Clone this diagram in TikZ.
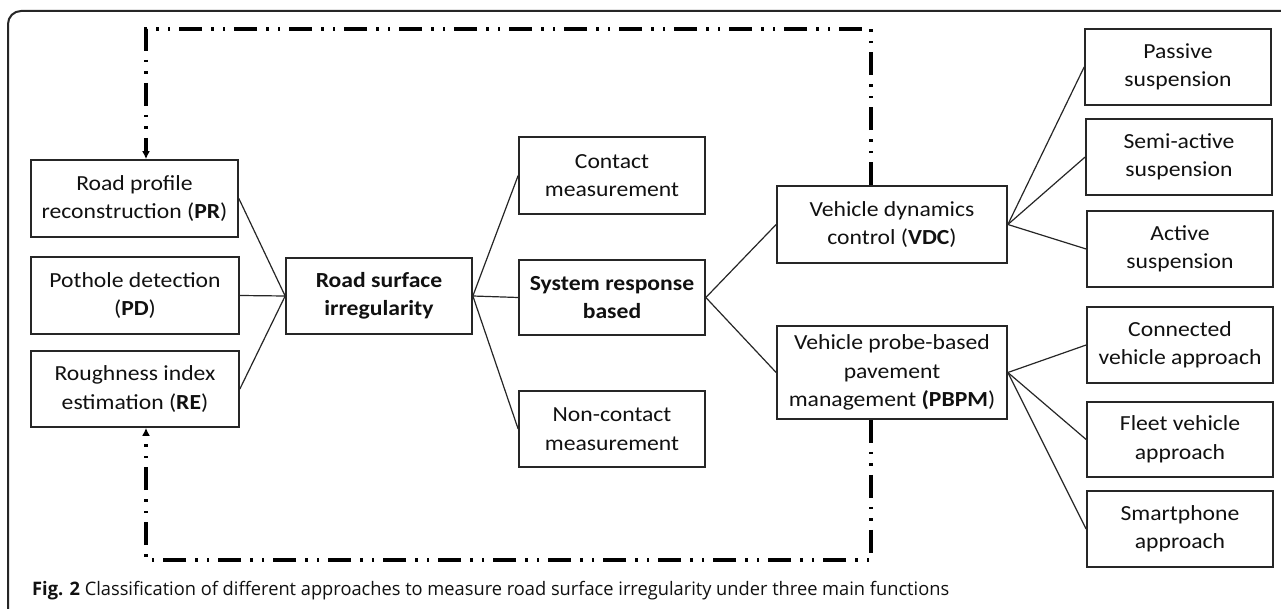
\documentclass[tikz,border=0pt]{standalone}
\usepackage{fontspec}
\setmainfont{Carlito}[FakeStretch=1.1]
\newfontfamily\capfont{Open Sans}
\usetikzlibrary{arrows.meta}
\definecolor{lin}{HTML}{262626}
\definecolor{txt}{HTML}{111111}
\tikzset{
  box/.style={draw=lin, line width=1.7pt, inner sep=0pt, align=center, text=txt,
    font=\fontsize{21.5}{28.5}\selectfont},
  conn/.style={draw=lin, line width=1.2pt},
  fb/.style={draw=black, line width=3.3pt,
    dash pattern=on 23pt off 9pt on 2.5pt off 9pt on 2.5pt off 9pt},
  fbarrow/.style={-{Latex[length=8pt,width=8pt]}}
}
\newsavebox\capbox
\begin{document}
\sbox\capbox{\capfont\fontsize{18.6}{22}\selectfont\color{txt}\textbf{Fig. 2} Classification of different approaches to measure road surface irregularity under three main functions}%
\begin{tikzpicture}[x=1pt,y=-1pt]
\useasboundingbox (0,0) rectangle (1281,609);
\fill[white] (0,0) rectangle (1281,609);
% frame
\draw[lin, line width=2pt, rounded corners=13pt] (8,620) -- (8,11) -- (1300,11);

% boxes
\node[box, minimum width=207pt, minimum height=77pt] (pr) at (134.5,198.5) {Road profile\\reconstruction (\textbf{PR})};
\node[box, minimum width=208pt, minimum height=77pt] (pd) at (135,295.5) {Pothole detection\\(\textbf{PD})};
\node[box, minimum width=208pt, minimum height=76pt] (re) at (135,389) {Roughness index\\estimation (\textbf{RE})};
\node[box, minimum width=186pt, minimum height=76pt] (rsi) at (379,296) {\textbf{Road surface}\\\textbf{irregularity}};
\node[box, minimum width=186pt, minimum height=77pt] (con) at (612,175.5) {Contact\\measurement};
\node[box, minimum width=186pt, minimum height=75pt] (srb) at (612,297.5) {\textbf{System response}\\\textbf{based}};
\node[box, minimum width=186pt, minimum height=76pt] (ncon) at (612,429) {Non-contact\\measurement};
\node[box, minimum width=230pt, minimum height=77pt] (vdc) at (892,224.5) {Vehicle dynamics\\control (\textbf{VDC})};
\node[box, minimum width=230pt, minimum height=93pt] (pbpm) at (892,372.5) {Vehicle probe-based\\pavement\\management \textbf{(PBPM})};
\node[box, minimum width=186pt, minimum height=76pt] (pas) at (1178,67) {Passive\\suspension};
\node[box, minimum width=186pt, minimum height=76pt] (semi) at (1179,157) {Semi-active\\suspension};
\node[box, minimum width=186pt, minimum height=76pt] (act) at (1180,249) {Active\\suspension};
\node[box, minimum width=186pt, minimum height=76pt] (cva) at (1180,345) {Connected\\vehicle approach};
\node[box, minimum width=186pt, minimum height=75pt] (fva) at (1180,439.5) {Fleet vehicle\\approach};
\node[box, minimum width=186pt, minimum height=76pt] (spa) at (1180,529) {Smartphone\\approach};

% connectors
\draw[conn] (pr.east) -- (rsi.west);
\draw[conn] (pd.east) -- (rsi.west);
\draw[conn] (re.east) -- (rsi.west);
\draw[conn] (rsi.east) -- (con.west);
\draw[conn] (rsi.east) -- (srb.west);
\draw[conn] (rsi.east) -- (ncon.west);
\draw[conn] (srb.east) -- (vdc.west);
\draw[conn] (srb.east) -- (pbpm.west);
\draw[conn] (vdc.east) -- (pas.west);
\draw[conn] (vdc.east) -- (semi.west);
\draw[conn] (vdc.east) -- (act.west);
\draw[conn] (pbpm.east) -- (cva.west);
\draw[conn] (pbpm.east) -- (fva.west);
\draw[conn] (pbpm.east) -- (spa.west);

% feedback dash-dot loops
\coordinate (tl) at (146,29);
\coordinate (tr) at (871,29);
\coordinate (bl) at (146,560);
\coordinate (br) at (871,560);
\draw[fb, fbarrow] (vdc.north -| tr) -- (tr) -- (tl) -- (pr.north -| tl);
\draw[fb, fbarrow] (pbpm.south -| br) -- (br) -- (bl) -- (re.south -| bl);

% caption
\node[anchor=base west, inner sep=0pt] (cap) at (32,595)
  {\resizebox{917pt}{\height}{\usebox\capbox}};
\end{tikzpicture}
\end{document}
